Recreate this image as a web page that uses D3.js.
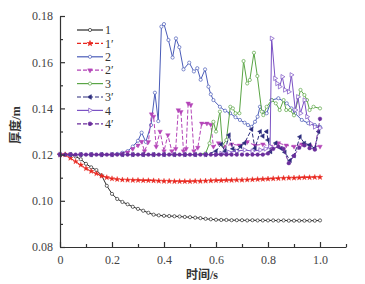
<!DOCTYPE html>
<html>
<head>
<meta charset="utf-8">
<script src="https://cdn.jsdelivr.net/npm/d3@7"></script>
<style>
    body { margin: 0; background: #fff; }
    text { font-family: "Liberation Serif", "Noto Sans CJK SC", serif; }
</style>
</head>
<body>
<svg id="chart" width="365" height="284"></svg>
<script>
// Time axis (s) shared by the smooth series
const times = [0, 0.02, 0.04, 0.06, 0.08, 0.10, 0.12, 0.14, 0.16, 0.18, 0.20, 0.22, 0.24, 0.26, 0.28, 0.30,
    0.32, 0.34, 0.36, 0.38, 0.40, 0.42, 0.44, 0.46, 0.48, 0.50, 0.52, 0.54, 0.56, 0.58, 0.60, 0.62, 0.64,
    0.66, 0.68, 0.70, 0.72, 0.74, 0.76, 0.78, 0.80, 0.82, 0.84, 0.86, 0.88, 0.90, 0.92, 0.94, 0.96, 0.98, 1.00];

// Series 1 (black)
const s1 = [.1200, .1200, .1200, .1192, .1180, .1160, .1145, .1133, .1110, .1065, .1030, .1008, .0995, .0985,
    .0974, .0965, .0957, .0948, .0940, .0937, .0935, .0934, .0933, .0932, .0930, .0929, .0927, .0925, .0922,
    .0920, .0918, .0917, .0917, .0916, .0916, .0916, .0915, .0916, .0915, .0915, .0915, .0915, .0914, .0915,
    .0914, .0914, .0914, .0914, .0914, .0914, .0915];

// Series 1' (red)
const s1b = [.1200, .1200, .1185, .1170, .1155, .1140, .1128, .1118, .1108, .1101, .1096, .1093, .1091, .1090,
    .1089, .1089, .1088, .1088, .1087, .1086, .1085, .1085, .1084, .1084, .1084, .1084, .1085, .1085, .1086,
    .1087, .1088, .1088, .1089, .1089, .1090, .1090, .1091, .1092, .1093, .1094, .1095, .1096, .1097, .1098,
    .1099, .1099, .1100, .1101, .1101, .1102, .1102];

// Series 4' (purple dashed)
const s4b = [.120, .120, .120, .120, .120, .120, .120, .120, .120, .120, .120, .120, .120, .120, .120, .120,
    .120, .120, .120, .120, .120, .120, .120, .120, .120, .120, .120, .120, .120, .120, .120, .120, .120,
    .120, .120, .120, .120, .120, .120, .1200, .1205, .1225, .1235, .1225, .1163, .1195, .1230, .1240,
    .1228, .1222, .1355];

// Series 2 (blue)
const t2 = [0, 0.04, 0.08, 0.12, 0.16, 0.20, 0.22, 0.24, 0.26, 0.28, 0.30, 0.314, 0.33, 0.35, 0.365, 0.378,
    0.39, 0.40, 0.417, 0.433, 0.446, 0.459, 0.475, 0.497, 0.515, 0.528, 0.541, 0.558, 0.571, 0.58, 0.59,
    0.615, 0.635, 0.654, 0.675, 0.692, 0.71, 0.723, 0.737, 0.75, 0.76, 0.769, 0.78, 0.795, 0.814, 0.84,
    0.872, 0.89, 0.904, 0.93, 0.955, 0.98, 1.0];
const s2 = [.120, .120, .120, .120, .120, .120, .1203, .1208, .1215, .1235, .126, .1295, .1255, .1328, .1468,
    .1345, .1754, .1765, .1696, .162, .1703, .1665, .1569, .1598, .156, .1574, .1524, .1569, .1494, .1461,
    .1436, .1407, .139, .1379, .1362, .135, .1338, .1328, .132, .1342, .1364, .1407, .1385, .1379, .1436,
    .1444, .1422, .140, .1379, .135, .1336, .1328, .132];

// Series 2' (magenta dashed)
const t2b = [0, 0.04, 0.08, 0.12, 0.16, 0.20, 0.24, 0.26, 0.28, 0.30, 0.314, 0.325, 0.34, 0.352, 0.36, 0.37,
    0.385, 0.40, 0.415, 0.43, 0.445, 0.455, 0.465, 0.475, 0.485, 0.493, 0.503, 0.515, 0.53, 0.545, 0.565,
    0.58, 0.59, 0.61, 0.63, 0.66, 0.69, 0.72, 0.75, 0.78, 0.81, 0.84, 0.87, 0.90, 0.93, 0.96, 1.0];
const s2b = [.120, .120, .120, .120, .120, .120, .1205, .121, .1225, .124, .1256, .1215, .1255, .1375, .1365,
    .1235, .130, .1215, .1285, .1215, .1225, .1393, .1385, .1215, .1225, .1422, .1415, .1215, .123, .1335,
    .1335, .133, .1235, .125, .1235, .1245, .124, .1255, .124, .1245, .1235, .125, .124, .1235, .1245, .124,
    .1235];

// Series 3 (green)
const t3 = [0, 0.04, 0.08, 0.12, 0.16, 0.20, 0.24, 0.28, 0.32, 0.36, 0.40, 0.44, 0.48, 0.52, 0.56, 0.575,
    0.59, 0.60, 0.615, 0.625, 0.64, 0.655, 0.665, 0.675, 0.69, 0.706, 0.72, 0.73, 0.746, 0.759, 0.776,
    0.782, 0.795, 0.814, 0.83, 0.845, 0.86, 0.87, 0.885, 0.90, 0.925, 0.94, 0.95, 0.96, 0.975, 1.0];
const s3 = [.120, .120, .120, .120, .120, .120, .120, .120, .120, .120, .120, .120, .120, .120, .1205, .1249,
    .1342, .130, .1386, .124, .1263, .1407, .140, .1379, .1379, .1605, .1508, .1523, .1641, .154, .1386,
    .1371, .1407, .1436, .1422, .1393, .1436, .1393, .1393, .137, .148, .1458, .1436, .1393, .1407, .140];

// Series 3' (navy dashed)
const t3b = [0, 0.04, 0.08, 0.12, 0.16, 0.20, 0.24, 0.28, 0.32, 0.36, 0.40, 0.44, 0.48, 0.52, 0.56, 0.60,
    0.62, 0.635, 0.65, 0.665, 0.68, 0.695, 0.71, 0.737, 0.75, 0.77, 0.78, 0.795, 0.80, 0.81, 0.83, 0.85,
    0.865, 0.885, 0.90, 0.923, 0.94, 0.96, 0.98, 0.995];
const s3b = [.120, .120, .120, .120, .120, .120, .120, .120, .120, .120, .120, .120, .120, .120, .120, .1215,
    .1245, .1215, .1285, .1225, .1215, .1235, .125, .131, .1227, .130, .128, .130, .1263, .1213, .125, .1227,
    .121, .1175, .1195, .1277, .1249, .1242, .1227, .130];

// Series 4 (purple)
const t4 = [0, 0.04, 0.08, 0.12, 0.16, 0.20, 0.24, 0.28, 0.32, 0.36, 0.40, 0.44, 0.48, 0.52, 0.56, 0.60,
    0.62, 0.65, 0.68, 0.71, 0.74, 0.77, 0.79, 0.808, 0.814, 0.827, 0.835, 0.845, 0.855, 0.865, 0.88, 0.89,
    0.905, 0.915, 0.925, 0.94, 0.95, 0.965, 0.98, 1.0];
const s4 = [.120, .120, .120, .120, .120, .120, .120, .120, .120, .120, .120, .120, .120, .120, .120, .120,
    .1205, .121, .1215, .122, .1215, .122, .1225, .1235, .1703, .153, .1508, .1494, .1537, .148, .1472, .1545,
    .1393, .145, .1379, .1436, .1364, .1335, .132, .1315];

// Tick labels
const xTicks = [0, 0.2, 0.4, 0.6, 0.8, 1.0];
const xMinor = [0.1, 0.3, 0.5, 0.7, 0.9, 1.1];
const yTicks = [0.08, 0.10, 0.12, 0.14, 0.16, 0.18];
const yMinor = [0.09, 0.11, 0.13, 0.15, 0.17];

// Series look-up (drawing order: 4' ends on top)
const series = [
    { name: "1",  t: times, v: s1,  color: "#2b2b2b", dash: null,  sym: "circle", fill: false },
    { name: "1′", t: times, v: s1b, color: "#e8261e", dash: "4,2", sym: "star",   fill: true },
    { name: "2",  t: t2,    v: s2,  color: "#4a5cb8", dash: null,  sym: "circle", fill: false },
    { name: "2′", t: t2b,   v: s2b, color: "#b445b8", dash: "4,2", sym: "down",   fill: true },
    { name: "3",  t: t3,    v: s3,  color: "#5aa545", dash: null,  sym: "circle", fill: false },
    { name: "3′", t: t3b,   v: s3b, color: "#2c2c7c", dash: "4,2", sym: "left",   fill: true },
    { name: "4",  t: t4,    v: s4,  color: "#7b52c4", dash: null,  sym: "right",  fill: false },
    { name: "4′", t: times, v: s4b, color: "#6a2d9c", dash: "4,2", sym: "dot",    fill: true }
];

const svg = d3.select("#chart");
const x = d3.scaleLinear().domain([0, 1.1]).range([60, 346]);
const y = d3.scaleLinear().domain([0.08, 0.18]).range([247, 16]);

function markerPath(sym) {
    if (sym === "star") return d3.symbol(d3.symbolStar, 9)();
    if (sym === "dot") return d3.symbol(d3.symbolCircle, 11)();
    if (sym === "circle") return d3.symbol(d3.symbolCircle, 8)();
    return d3.symbol(d3.symbolTriangle, 9)();
}
function markerRotate(sym) {
    if (sym === "down") return 180;
    if (sym === "left") return -90;
    if (sym === "right") return 90;
    return 0;
}

// Lines and markers
const line = d3.line().x(d => x(d[0])).y(d => y(d[1]));
series.forEach(s => {
    const pts = d3.zip(s.t, s.v);
    const g = svg.append("g");
    g.append("path")
        .attr("d", line(pts))
        .attr("fill", "none")
        .attr("stroke", s.color)
        .attr("stroke-width", 1)
        .attr("stroke-dasharray", s.dash);
    g.selectAll("path.m")
        .data(pts)
        .enter().append("path")
        .attr("class", "m")
        .attr("d", markerPath(s.sym))
        .attr("transform", d => `translate(${x(d[0])},${y(d[1])}) rotate(${markerRotate(s.sym)})`)
        .attr("fill", s.fill ? s.color : "#fff")
        .attr("stroke", s.color)
        .attr("stroke-width", s.fill ? 0.4 : 0.7);
});

// Axes
svg.append("g")
    .attr("transform", "translate(0,247)")
    .call(d3.axisBottom(x).tickValues(xTicks)
        .tickFormat(d => d === 0 ? "0" : d3.format(".1f")(d))
        .tickSizeInner(-5).tickSizeOuter(0).tickPadding(8));
svg.append("g")
    .attr("transform", "translate(0,247)")
    .call(d3.axisBottom(x).tickValues(xMinor).tickFormat("").tickSizeInner(-3).tickSizeOuter(0))
    .select(".domain").remove();

svg.append("g")
    .attr("transform", "translate(60,0)")
    .call(d3.axisLeft(y).tickValues(yTicks).tickFormat(d3.format(".2f"))
        .tickSizeInner(-5).tickSizeOuter(0).tickPadding(7));
svg.append("g")
    .attr("transform", "translate(60,0)")
    .call(d3.axisLeft(y).tickValues(yMinor).tickFormat("").tickSizeInner(-3).tickSizeOuter(0))
    .select(".domain").remove();

svg.selectAll(".domain, .tick line").attr("stroke", "#333").attr("stroke-width", 1.2);
svg.selectAll(".tick text")
    .style("font-family", "'Liberation Serif', serif")
    .style("font-size", "12px")
    .attr("fill", "#444");

// Axis titles
svg.append("text")
    .attr("x", 202).attr("y", 279)
    .attr("text-anchor", "middle")
    .style("font-size", "12px").style("font-weight", "bold")
    .attr("fill", "#333")
    .text("时间/s");

svg.append("text")
    .attr("transform", "translate(20,125) rotate(-90)")
    .attr("text-anchor", "middle")
    .style("font-size", "12px").style("font-weight", "bold")
    .attr("fill", "#333")
    .text("厚度/m");

// Legend
const legend = svg.selectAll(".legend")
    .data(series)
    .enter().append("g")
    .attr("class", "legend")
    .attr("transform", (d, i) => `translate(77,${30 + i * 13.4})`);

legend.append("line")
    .attr("x1", 0).attr("x2", 26)
    .attr("stroke", d => d.color)
    .attr("stroke-width", 1.2)
    .attr("stroke-dasharray", d => d.dash);

legend.append("path")
    .attr("d", d => markerPath(d.sym))
    .attr("transform", d => `translate(13,0) rotate(${markerRotate(d.sym)})`)
    .attr("fill", d => d.fill ? d.color : "#fff")
    .attr("stroke", d => d.color)
    .attr("stroke-width", 0.7);

legend.append("text")
    .attr("x", 28)
    .attr("dy", ".35em")
    .style("font-size", "12px")
    .attr("fill", "#333")
    .text(d => d.name);
</script>
</body>
</html>
